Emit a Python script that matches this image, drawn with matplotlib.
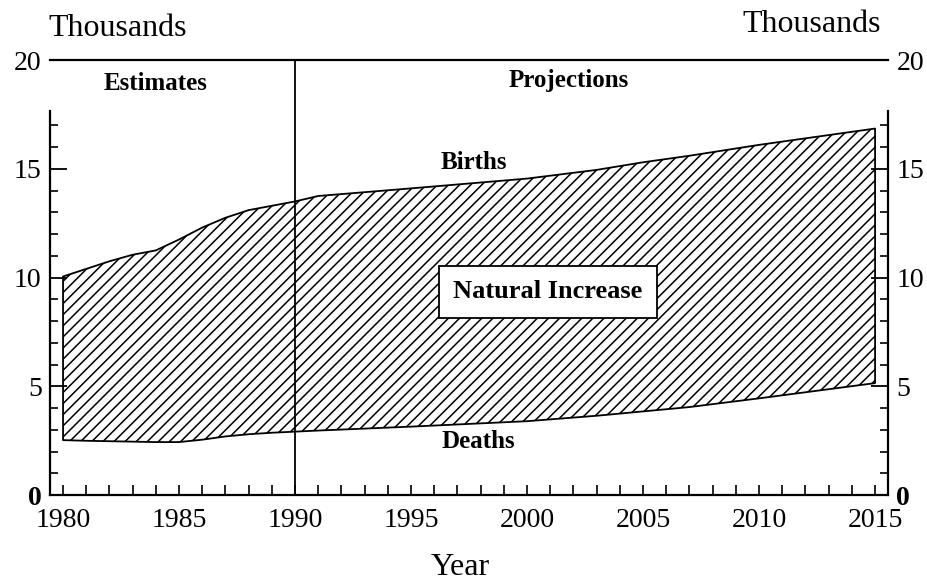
import matplotlib.pyplot as plt
from matplotlib.ticker import MultipleLocator, FixedLocator

# values (thousands)
years = [1980, 1981, 1982, 1983, 1984, 1985, 1986, 1987, 1988, 1989, 1990,
         1991, 1995, 2000, 2003, 2005, 2007, 2010, 2015]
births = [10.05, 10.4, 10.75, 11.05, 11.25, 11.75, 12.3, 12.75, 13.1, 13.3, 13.5,
          13.75, 14.1, 14.55, 14.95, 15.3, 15.6, 16.1, 16.85]
deaths = [2.53, 2.5, 2.48, 2.46, 2.44, 2.44, 2.55, 2.7, 2.8, 2.87, 2.92,
          2.97, 3.15, 3.4, 3.65, 3.85, 4.05, 4.45, 5.15]
yticks = [0, 5, 10, 15, 20]
xticks = [1980, 1985, 1990, 1995, 2000, 2005, 2010, 2015]

plt.rcParams['font.family'] = 'Liberation Serif'
plt.rcParams['hatch.linewidth'] = 1.1

fig = plt.figure(figsize=(9.27, 5.86), dpi=100)
ax = fig.add_axes([0.054, 0.155, 0.904, 0.7426])

# shaded natural increase
ax.fill_between(years, deaths, births, facecolor='white', edgecolor='black',
                hatch='///', linewidth=1.3)

# estimates / projections divider
ax.axvline(1990, color='black', lw=1.3)

ax.set_xlim(1979.44, 2015.56)
ax.set_ylim(0, 20)

# spines
for s in ['left', 'right']:
    ax.spines[s].set_bounds(0, 17.65)
    ax.spines[s].set_linewidth(1.6)
ax.spines['top'].set_linewidth(1.6)
ax.spines['bottom'].set_linewidth(1.6)

ax.set_xticks(xticks)
ax.xaxis.set_minor_locator(MultipleLocator(1))
ax.tick_params(axis='x', which='both', direction='in', length=7, width=1.2,
               labelsize=20, pad=9)

ax.set_yticks(yticks)
ax.yaxis.set_minor_locator(FixedLocator([v for v in range(1, 18) if v % 5]))
ax.tick_params(axis='y', which='major', direction='in', length=12, width=1.3,
               labelsize=20, left=True, right=True, labelleft=True, labelright=True, pad=6)
ax.tick_params(axis='y', which='minor', direction='in', length=6, width=1.2,
               left=True, right=True)

for lab in ax.get_yticklabels(which='both'):
    if lab.get_text() == '0':
        lab.set_fontweight('bold')

# labels
ax.text(1983.97, 18.9, 'Estimates', ha='center', va='center',
        fontsize=18, fontweight='bold')
ax.text(2001.8, 19.05, 'Projections', ha='center', va='center',
        fontsize=18, fontweight='bold')
ax.text(1997.7, 15.3, 'Births', ha='center', va='center',
        fontsize=18, fontweight='bold')
ax.text(1997.9, 2.45, 'Deaths', ha='center', va='center',
        fontsize=18, fontweight='bold')
ax.text(2000.9, 9.35, 'Natural Increase', ha='center', va='center',
        fontsize=19, fontweight='bold',
        bbox=dict(boxstyle='square,pad=0.55', facecolor='white',
                  edgecolor='black', linewidth=1.3))

fig.text(0.052, 0.9386, 'Thousands', ha='left', va='baseline', fontsize=23)
fig.text(0.950, 0.945, 'Thousands', ha='right', va='baseline', fontsize=23)
fig.text(0.496, 0.031, 'Year', ha='center', va='center', fontsize=23)

fig.savefig('out.png', dpi=100)
